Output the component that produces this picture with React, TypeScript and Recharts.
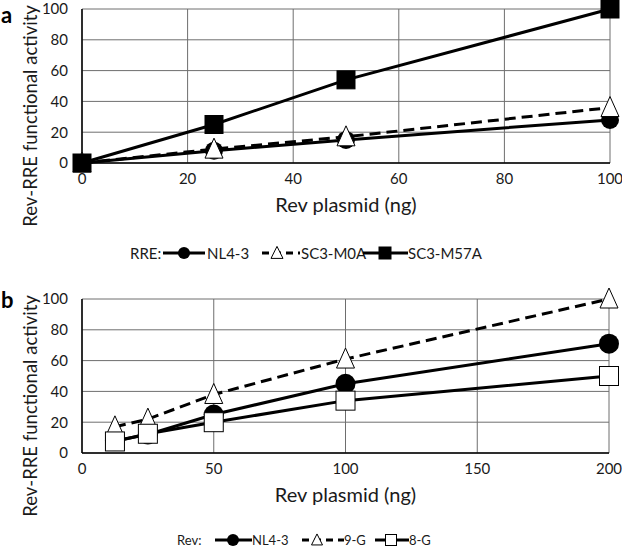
import React from "react";
import { LineChart, Line, XAxis, YAxis, CartesianGrid, Legend } from "recharts";

// panel a: RRE variants
const doseA = [0, 25, 50, 100];
const nl43A = [0, 8, 15, 28];
const m0aA = [0, 9, 17, 36];
const m57aA = [0, 25, 54, 100];
const ticksA = [0, 20, 40, 60, 80, 100];

// panel b: Rev variants
const doseB = [12.5, 25, 50, 100, 200];
const nl43B = [8, 12, 25, 45, 71];
const g9B = [17, 22, 38, 61, 100];
const g8B = [7.5, 12.5, 20, 34, 50];
const ticksBx = [0, 50, 100, 150, 200];
const ticksBy = [0, 20, 40, 60, 80, 100];

const dataA = doseA.map((x, i) => ({ x, nl43: nl43A[i], m0a: m0aA[i], m57a: m57aA[i] }));
const dataB = doseB.map((x, i) => ({ x, nl43: nl43B[i], g9: g9B[i], g8: g8B[i] }));

const FONT = "Lato, 'Open Sans', sans-serif";
const INK = "#1a1a1a";
const GRID = "#6e6e6e";

const circleDot = (r: number) => (p: any) => (
  <circle key={p.index} cx={p.cx} cy={p.cy} r={r} fill="#000" />
);
const triDot = (w: number, h: number) => (p: any) => (
  <polygon
    key={p.index}
    points={`${p.cx},${p.cy - h * 0.55} ${p.cx - w / 2},${p.cy + h * 0.45} ${p.cx + w / 2},${p.cy + h * 0.45}`}
    fill="#fff"
    stroke="#000"
    strokeWidth={1}
  />
);
const squareDot = (s: number, fill: string) => (p: any) => (
  <rect
    key={p.index}
    x={p.cx - s / 2}
    y={p.cy - s / 2}
    width={s}
    height={s}
    fill={fill}
    stroke="#000"
    strokeWidth={1}
  />
);

const YLabel = (props: any) => {
  const vb = props.viewBox || { x: 0, y: 0, width: 82, height: 150 };
  const cx = vb.x + 30;
  const cy = vb.y + vb.height / 2 + 30;
  return (
    <text
      x={cx}
      y={cy}
      transform={`rotate(-90 ${cx} ${cy})`}
      textAnchor="middle"
      dominantBaseline="central"
      fontSize={18.5}
      fill={INK}
    >
      Rev-RRE functional activity
    </text>
  );
};

type Icon = "circle" | "tri" | "square" | "wsquare";

function LegendIcon({ w, kind, dashed, at, size }: { w: number; kind: Icon; dashed?: boolean; at: number; size: number }) {
  const cy = 8;
  let marker: React.ReactNode = null;
  if (kind === "circle") marker = <circle cx={at} cy={cy} r={size / 2} fill="#000" />;
  if (kind === "tri")
    marker = (
      <polygon
        points={`${at},${cy - size * 0.55} ${at - size / 2},${cy + size * 0.45} ${at + size / 2},${cy + size * 0.45}`}
        fill="#fff"
        stroke="#000"
      />
    );
  if (kind === "square" || kind === "wsquare")
    marker = (
      <rect
        x={at - size / 2}
        y={cy - size / 2}
        width={size}
        height={size}
        fill={kind === "square" ? "#000" : "#fff"}
        stroke="#000"
      />
    );
  return (
    <svg width={w} height={16} style={{ display: "block", flex: "none" }}>
      <line x1={0} x2={w} y1={cy} y2={cy} stroke="#000" strokeWidth={3} strokeDasharray={dashed ? "7 5" : undefined} />
      {marker}
    </svg>
  );
}

const rowStyle = (left: number, fs: number): React.CSSProperties => ({
  height: 16,
  display: "flex",
  alignItems: "center",
  paddingLeft: left,
  fontSize: fs,
  lineHeight: "16px",
  color: INK,
  fontFamily: FONT,
  whiteSpace: "nowrap",
});
const cell = (w?: number, pl = 0): React.CSSProperties => ({
  width: w,
  flex: "none",
  paddingLeft: pl,
  whiteSpace: "nowrap",
  boxSizing: "border-box",
});

const LegendA = () => (
  <div style={rowStyle(130, 15)}>
    <span style={cell(33)}>RRE:</span>
    <LegendIcon w={42} kind="circle" at={21} size={12} />
    <span style={cell(57, 2)}>NL4-3</span>
    <LegendIcon w={38} kind="tri" dashed at={15} size={12} />
    <span style={cell(63, 1)}>SC3-M0A</span>
    <LegendIcon w={45} kind="square" at={22} size={12} />
    <span style={cell()}>SC3-M57A</span>
  </div>
);

const LegendB = () => (
  <div style={rowStyle(177, 13)}>
    <span style={cell(38)}>Rev:</span>
    <LegendIcon w={37} kind="circle" at={18} size={12} />
    <span style={cell(50)}>NL4-3</span>
    <LegendIcon w={42} kind="tri" dashed at={15} size={11} />
    <span style={cell(31)}>9-G</span>
    <LegendIcon w={34} kind="wsquare" at={16} size={11} />
    <span style={cell()}>8-G</span>
  </div>
);

const tickStyle = { fontSize: 15, fill: INK };

export default function App() {
  return (
    <div
      style={{
        position: "absolute",
        left: 0,
        top: 0,
        width: 622,
        height: 551,
        overflow: "hidden",
        background: "#fff",
        fontFamily: FONT,
      }}
    >
      <div style={{ position: "absolute", left: 0, top: 0 }}>
        <LineChart width={622} height={266} data={dataA} margin={{ top: 9, right: 12, bottom: 5, left: 0 }}>
          <CartesianGrid stroke={GRID} strokeWidth={1} />
          <XAxis
            dataKey="x"
            type="number"
            domain={[0, 100]}
            ticks={ticksA}
            tickLine={false}
            tickSize={0}
            tickMargin={10}
            height={82}
            axisLine={{ stroke: "#000", strokeWidth: 1.5 }}
            tick={tickStyle}
            label={{ value: "Rev plasmid (ng)", position: "insideTop", offset: 35, fontSize: 20, fill: INK }}
          />
          <YAxis
            type="number"
            domain={[0, 100]}
            ticks={ticksA}
            tickLine={false}
            tickSize={0}
            tickMargin={14}
            width={82}
            axisLine={{ stroke: "#000", strokeWidth: 1.5 }}
            tick={tickStyle}
            label={<YLabel />}
          />
          <Legend verticalAlign="bottom" align="left" content={() => <LegendA />} />
          <Line dataKey="nl43" name="NL4-3" stroke="#000" strokeWidth={3} dot={circleDot(9)} isAnimationActive={false} />
          <Line dataKey="m0a" name="SC3-M0A" stroke="#000" strokeWidth={3} strokeDasharray="11 6" dot={triDot(18, 20)} isAnimationActive={false} />
          <Line dataKey="m57a" name="SC3-M57A" stroke="#000" strokeWidth={3} dot={squareDot(18, "#000")} isAnimationActive={false} />
        </LineChart>
      </div>
      <div style={{ position: "absolute", left: 0, top: 266 }}>
        <LineChart width={622} height={285} data={dataB} margin={{ top: 33, right: 13, bottom: 3, left: 0 }}>
          <CartesianGrid stroke={GRID} strokeWidth={1} />
          <XAxis
            dataKey="x"
            type="number"
            domain={[0, 200]}
            ticks={ticksBx}
            tickLine={false}
            tickSize={0}
            tickMargin={10}
            height={79}
            axisLine={{ stroke: "#000", strokeWidth: 1.5 }}
            tick={tickStyle}
            label={{ value: "Rev plasmid (ng)", position: "insideTop", offset: 35, fontSize: 20, fill: INK }}
          />
          <YAxis
            type="number"
            domain={[0, 100]}
            ticks={ticksBy}
            tickLine={false}
            tickSize={0}
            tickMargin={14}
            width={82}
            axisLine={{ stroke: "#000", strokeWidth: 1.5 }}
            tick={tickStyle}
            label={<YLabel />}
          />
          <Legend verticalAlign="bottom" align="left" content={() => <LegendB />} />
          <Line dataKey="nl43" name="NL4-3" stroke="#000" strokeWidth={3} dot={circleDot(10)} isAnimationActive={false} />
          <Line dataKey="g9" name="9-G" stroke="#000" strokeWidth={3} strokeDasharray="11 6" dot={triDot(18, 20)} isAnimationActive={false} />
          <Line dataKey="g8" name="8-G" stroke="#000" strokeWidth={3} dot={squareDot(19, "#fff")} isAnimationActive={false} />
        </LineChart>
      </div>
      <div style={{ position: "absolute", left: 1, top: 4, fontSize: 22, fontWeight: 700, lineHeight: "22px", color: "#000" }}>a</div>
      <div style={{ position: "absolute", left: 1, top: 289, fontSize: 22, fontWeight: 700, lineHeight: "22px", color: "#000" }}>b</div>
    </div>
  );
}
